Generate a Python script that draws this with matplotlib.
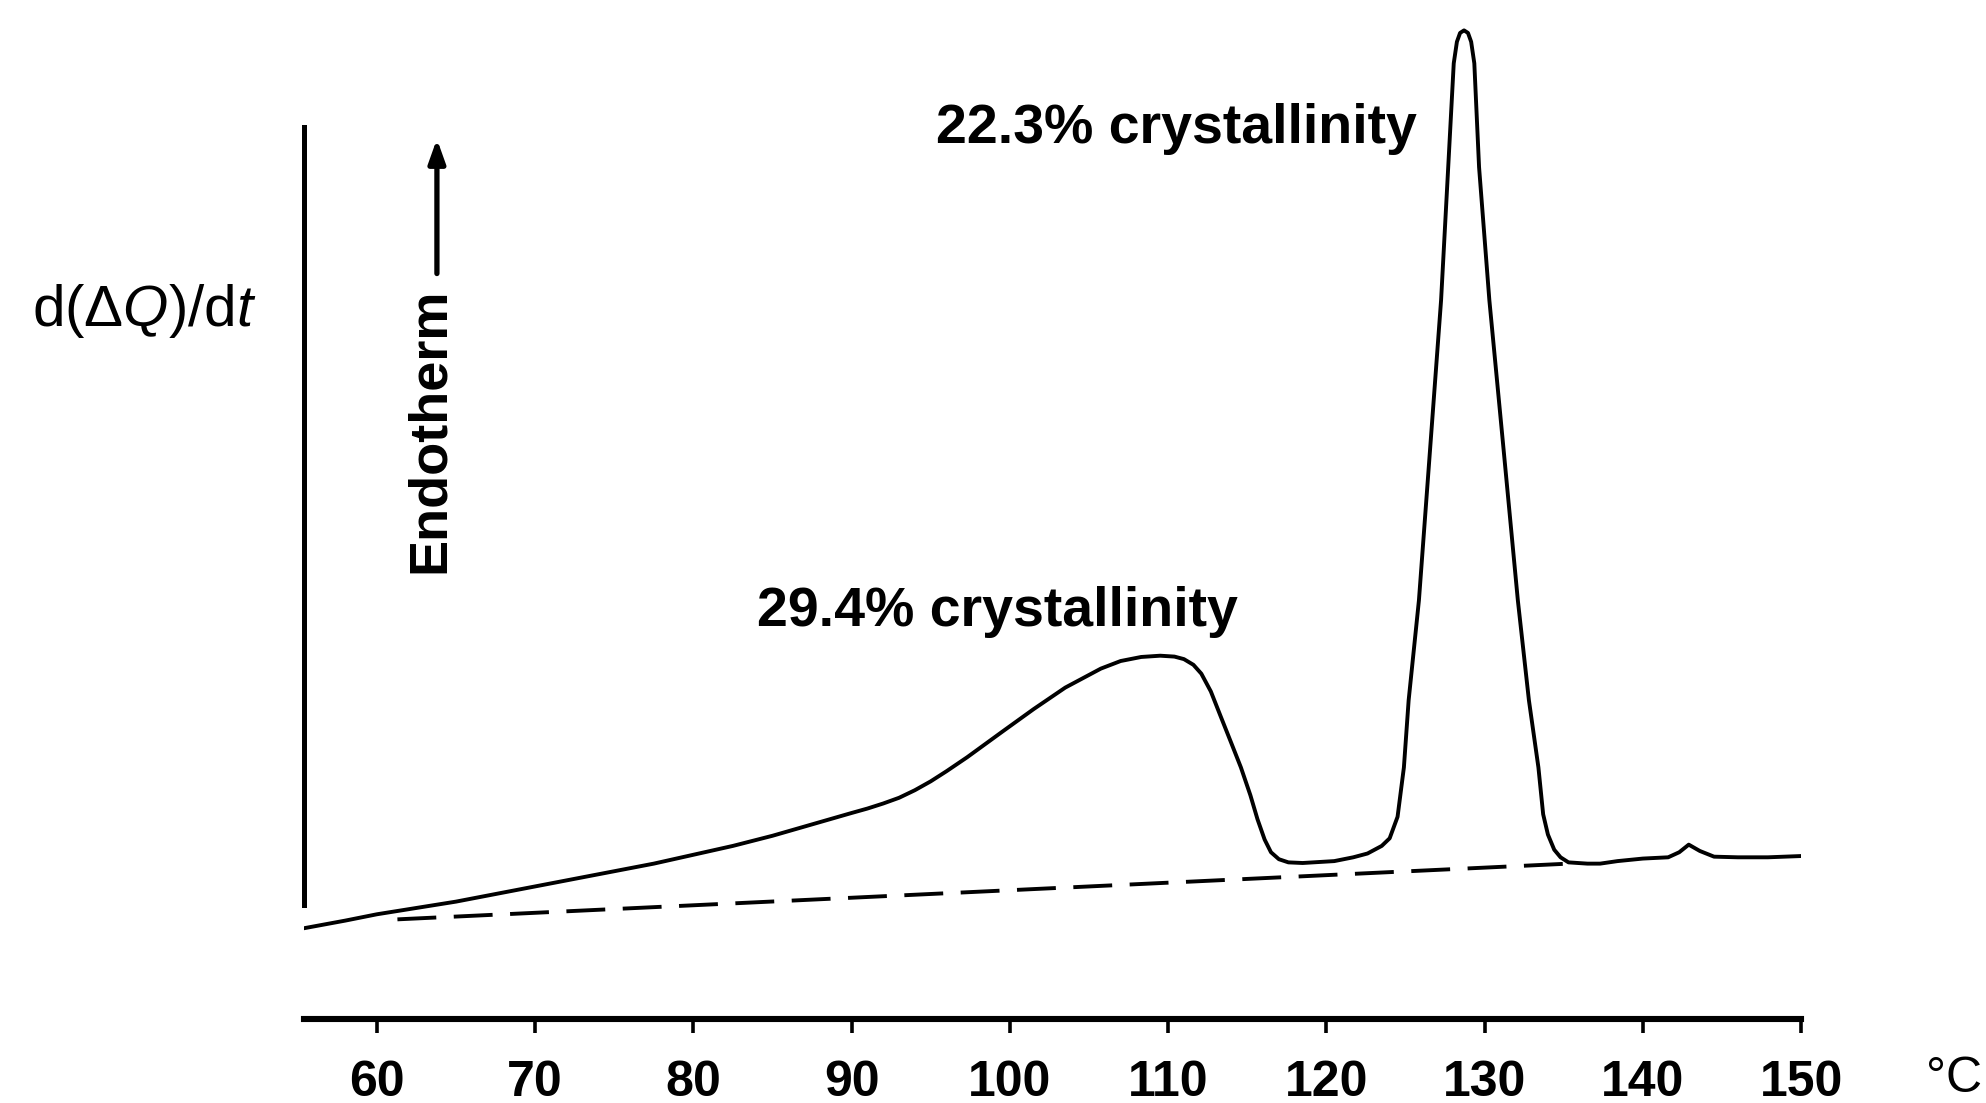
import numpy as np
import matplotlib
matplotlib.use("Agg")
import matplotlib.pyplot as plt

plt.rcParams["font.family"] = ["Liberation Sans", "DejaVu Sans"]
plt.rcParams["mathtext.fontset"] = "custom"
plt.rcParams["mathtext.rm"] = "Liberation Sans"
plt.rcParams["mathtext.it"] = "Liberation Sans:italic"

# ── DSC trace (temperature in °C, signal in arbitrary units) ──
temp = [55.4, 58, 60, 62.5, 65, 67.5, 70, 72.5, 75, 77.5, 80, 82.5, 85, 87.5, 90,
        91, 92, 93, 94, 95, 96, 97.3, 99.5, 101.5, 103.5, 105.75, 107, 108.3,
        109.5, 110.4, 111.0, 111.6, 112.1, 112.7, 113.3, 114, 114.6, 115.2,
        115.65, 116.1, 116.5, 117.0, 117.6, 118.5, 120.5, 121.7, 122.6, 123.5,
        124.0, 124.5, 124.9, 125.2, 125.85, 126.5, 127.25, 127.7, 128.05, 128.25,
        128.45, 128.7, 128.95, 129.15, 129.35, 129.65, 130.3, 131.2, 132.1,
        132.8, 133.4, 133.7, 134.0, 134.4, 134.8, 135.3, 136.5, 137.3, 138.4,
        140, 141.6, 142.3, 142.9, 143.6, 144.5, 146, 147.9, 150]
signal = [0.72, 0.78, 0.83, 0.88, 0.93, 0.99, 1.05, 1.11, 1.17, 1.23, 1.30, 1.37,
          1.45, 1.54, 1.63, 1.665, 1.705, 1.75, 1.81, 1.88, 1.96, 2.07, 2.27,
          2.45, 2.62, 2.77, 2.83, 2.862, 2.872, 2.865, 2.845, 2.80, 2.73, 2.59,
          2.40, 2.18, 1.99, 1.77, 1.58, 1.42, 1.32, 1.265, 1.24, 1.235, 1.25,
          1.28, 1.31, 1.37, 1.43, 1.60, 1.99, 2.52, 3.31, 4.41, 5.68, 6.73, 7.55,
          7.72, 7.79, 7.81, 7.79, 7.72, 7.55, 6.73, 5.68, 4.50, 3.31, 2.52, 1.99,
          1.62, 1.46, 1.34, 1.28, 1.24, 1.23, 1.23, 1.25, 1.27, 1.28, 1.32, 1.38,
          1.33, 1.285, 1.28, 1.28, 1.29]

# extrapolated baseline (dashed)
base_temp = [61.3, 135.3]
base_signal = [0.79, 1.23]

xticks = [60, 70, 80, 90, 100, 110, 120, 130, 140, 150]

fig = plt.figure(figsize=(19.86, 11.03), dpi=100)
ax = fig.add_axes([0.1531, 0.0758, 0.9069 - 0.1531, 1 - 0.0758])

ax.plot(temp, signal, color="black", lw=2.8, solid_joinstyle="round")
ax.plot(base_temp, base_signal, color="black", lw=2.8, dashes=(10, 4.5))

ax.set_xlim(55.4, 150)
ax.set_ylim(0, 8.05)

for s in ["top", "right"]:
    ax.spines[s].set_visible(False)
ax.spines["bottom"].set_linewidth(4.4)
ax.spines["left"].set_linewidth(3.6)
ax.spines["left"].set_bounds(0.90, 7.05)

ax.set_xticks(xticks)
ax.set_xticklabels([str(t) for t in xticks], fontweight="bold")
ax.tick_params(axis="x", direction="out", length=10, width=2.6, pad=19, labelsize=36)
ax.set_yticks([])

# labels
fig.text(0.0725, 0.718, r"$\mathrm{d}(\Delta \mathit{Q})/\mathrm{d}\mathit{t}$",
         fontsize=42, ha="center", va="center")
fig.text(0.984, 0.022, "°C", fontsize=36, ha="center", va="center")

fig.text(0.2165, 0.61, "Endotherm", rotation=90, fontsize=39, fontweight="bold",
         ha="center", va="center")
ax.annotate("", xy=(0.2200, 0.874), xytext=(0.2200, 0.752),
            xycoords="figure fraction", textcoords="figure fraction",
            arrowprops=dict(arrowstyle="-|>,head_length=1.4,head_width=0.5",
                            lw=3.8, color="black", shrinkA=0, shrinkB=0))

ax.text(99.2, 3.22, "29.4% crystallinity", fontsize=40, fontweight="bold",
        ha="center", va="center")
ax.text(110.5, 7.03, "22.3% crystallinity", fontsize=40, fontweight="bold",
        ha="center", va="center")

fig.savefig("out.png", dpi=100)
